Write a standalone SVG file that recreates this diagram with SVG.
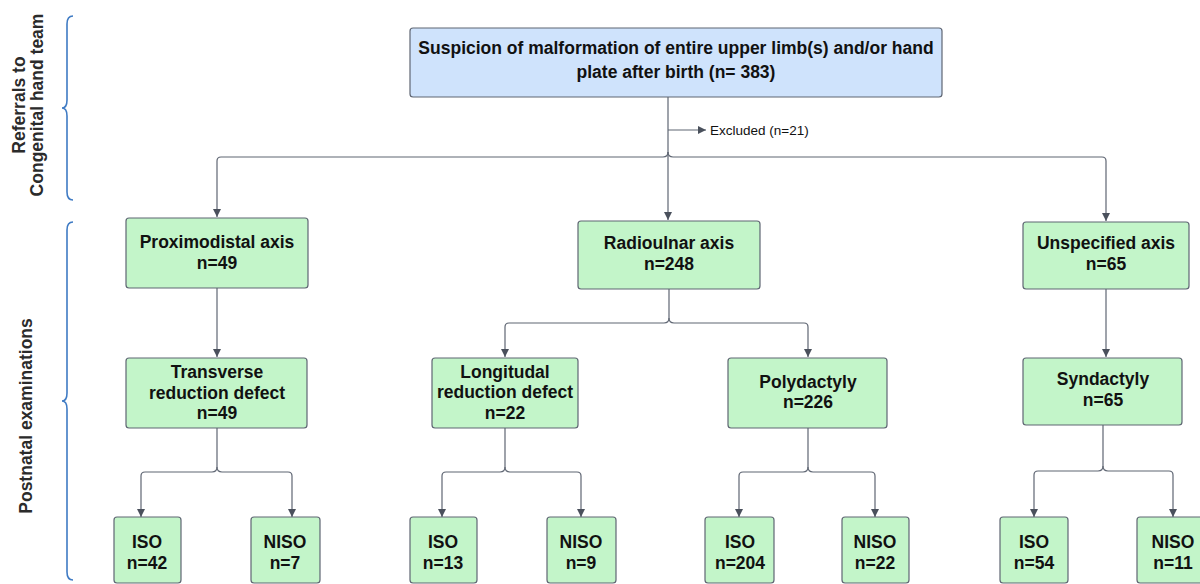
<svg xmlns="http://www.w3.org/2000/svg" width="1200" height="584" viewBox="0 0 1200 584">
<style>
.box{fill:#c3f5c9;stroke:#5f6673;stroke-width:1.2}
.top{fill:#cfe3fc;stroke:#5f6673;stroke-width:1.2}
.t{font-family:"Liberation Sans",Arial,sans-serif;font-weight:bold;font-size:17.5px;fill:#111;text-anchor:middle}
.side{font-family:"Liberation Sans",Arial,sans-serif;font-weight:bold;font-size:17.5px;fill:#2b2b2b;text-anchor:middle}
.small{font-family:"Liberation Sans",Arial,sans-serif;font-size:13.5px;fill:#111}
.c{fill:none;stroke:#5f6673;stroke-width:1.2}
.brace{fill:none;stroke:#3f7bc4;stroke-width:1.6}
</style>
<defs>
<marker id="ah" viewBox="0 0 10 10" refX="10" refY="5" markerWidth="8" markerHeight="8" markerUnits="userSpaceOnUse" orient="auto">
<path d="M0,0 L10,5 L0,10 z" fill="#4a505c"/>
</marker>
</defs>

<g id="labels">
<path class="brace" d="M73,16 Q67,16 67,24 L67,100 Q67,108 62,108 Q67,108 67,116 L67,192 Q67,200 73,200"/>
<path class="brace" d="M73,222 Q67,222 67,230 L67,393 Q67,401 62,401 Q67,401 67,409 L67,572 Q67,580 73,580"/>
<text class="side" transform="translate(25,105) rotate(-90)">Referrals to</text>
<text class="side" transform="translate(43,105) rotate(-90)">Congenital hand team</text>
<text class="side" transform="translate(32,416) rotate(-90)">Postnatal examinations</text>
</g>

<g id="connectors">
<path class="c" d="M668,97 V220" marker-end="url(#ah)"/>
<path class="c" d="M668,152 Q668,157 663,157 H221 Q217,157 217,161 V217" marker-end="url(#ah)"/>
<path class="c" d="M668,152 Q668,157 673,157 H1102 Q1106,157 1106,161 V221" marker-end="url(#ah)"/>
<path class="c" d="M668,130 H706" marker-end="url(#ah)"/>
<path class="c" d="M217,288 V357" marker-end="url(#ah)"/>
<path class="c" d="M669,289 V318 Q669,323 664,323 H509 Q505,323 505,327 V357" marker-end="url(#ah)"/>
<path class="c" d="M669,318 Q669,323 674,323 H804 Q808,323 808,327 V357" marker-end="url(#ah)"/>
<path class="c" d="M1106,289 V357" marker-end="url(#ah)"/>
<path class="c" d="M217,428 V467 Q217,472 212,472 H145 Q141,472 141,476 V517" marker-end="url(#ah)"/>
<path class="c" d="M217,467 Q217,472 222,472 H288 Q292,472 292,476 V517" marker-end="url(#ah)"/>
<path class="c" d="M505,428 V467 Q505,472 500,472 H446 Q442,472 442,476 V517" marker-end="url(#ah)"/>
<path class="c" d="M505,467 Q505,472 510,472 H577 Q581,472 581,476 V517" marker-end="url(#ah)"/>
<path class="c" d="M808,428 V467 Q808,472 803,472 H743 Q739,472 739,476 V517" marker-end="url(#ah)"/>
<path class="c" d="M808,467 Q808,472 813,472 H871 Q875,472 875,476 V517" marker-end="url(#ah)"/>
<path class="c" d="M1103,425 V466 Q1103,471 1098,471 H1038 Q1034,471 1034,475 V517" marker-end="url(#ah)"/>
<path class="c" d="M1103,466 Q1103,471 1108,471 H1169 Q1173,471 1173,475 V517" marker-end="url(#ah)"/>
<text class="small" x="710" y="135">Excluded (n=21)</text>
</g>

<g id="n-top">
<rect class="top" x="410" y="28" width="532" height="69" rx="3"/>
<text class="t" x="676" y="54">Suspicion of malformation of entire upper limb(s) and/or hand</text>
<text class="t" x="676" y="78">plate after birth (n= 383)</text>
</g>

<g id="n-prox">
<rect class="box" x="126" y="218" width="182" height="70" rx="3"/>
<text class="t" x="217" y="248">Proximodistal axis</text>
<text class="t" x="217" y="269">n=49</text>
</g>
<g id="n-radio">
<rect class="box" x="578" y="221" width="182" height="68" rx="3"/>
<text class="t" x="669" y="249">Radioulnar axis</text>
<text class="t" x="669" y="270">n=248</text>
</g>
<g id="n-unspec">
<rect class="box" x="1023" y="222" width="166" height="67" rx="3"/>
<text class="t" x="1106" y="249">Unspecified axis</text>
<text class="t" x="1106" y="270">n=65</text>
</g>

<g id="n-trans">
<rect class="box" x="126" y="358" width="181" height="70" rx="3"/>
<text class="t" x="217" y="378">Transverse</text>
<text class="t" x="217" y="399">reduction defect</text>
<text class="t" x="217" y="419">n=49</text>
</g>
<g id="n-long">
<rect class="box" x="432" y="358" width="146" height="70" rx="3"/>
<text class="t" x="505" y="378">Longitudal</text>
<text class="t" x="505" y="398">reduction defect</text>
<text class="t" x="505" y="419">n=22</text>
</g>
<g id="n-poly">
<rect class="box" x="728" y="358" width="159" height="70" rx="3"/>
<text class="t" x="808" y="388">Polydactyly</text>
<text class="t" x="808" y="408">n=226</text>
</g>
<g id="n-synd">
<rect class="box" x="1023" y="358" width="159" height="67" rx="3"/>
<text class="t" x="1103" y="385">Syndactyly</text>
<text class="t" x="1103" y="406">n=65</text>
</g>

<g id="n-iso1">
<rect class="box" x="114" y="517" width="67" height="66" rx="3"/>
<text class="t" x="147" y="548">ISO</text>
<text class="t" x="147" y="569">n=42</text>
</g>
<g id="n-niso1">
<rect class="box" x="251" y="517" width="69" height="66" rx="3"/>
<text class="t" x="285" y="548">NISO</text>
<text class="t" x="285" y="569">n=7</text>
</g>
<g id="n-iso2">
<rect class="box" x="410" y="517" width="67" height="66" rx="3"/>
<text class="t" x="443" y="548">ISO</text>
<text class="t" x="443" y="569">n=13</text>
</g>
<g id="n-niso2">
<rect class="box" x="547" y="517" width="69" height="66" rx="3"/>
<text class="t" x="581" y="548">NISO</text>
<text class="t" x="581" y="569">n=9</text>
</g>
<g id="n-iso3">
<rect class="box" x="705" y="517" width="69" height="66" rx="3"/>
<text class="t" x="740" y="548">ISO</text>
<text class="t" x="740" y="569">n=204</text>
</g>
<g id="n-niso3">
<rect class="box" x="842" y="517" width="67" height="66" rx="3"/>
<text class="t" x="875" y="548">NISO</text>
<text class="t" x="875" y="569">n=22</text>
</g>
<g id="n-iso4">
<rect class="box" x="1000" y="517" width="68" height="66" rx="3"/>
<text class="t" x="1034" y="548">ISO</text>
<text class="t" x="1034" y="569">n=54</text>
</g>
<g id="n-niso4">
<rect class="box" x="1137" y="517" width="72" height="66" rx="3"/>
<text class="t" x="1173" y="548">NISO</text>
<text class="t" x="1173" y="569">n=11</text>
</g>
</svg>
